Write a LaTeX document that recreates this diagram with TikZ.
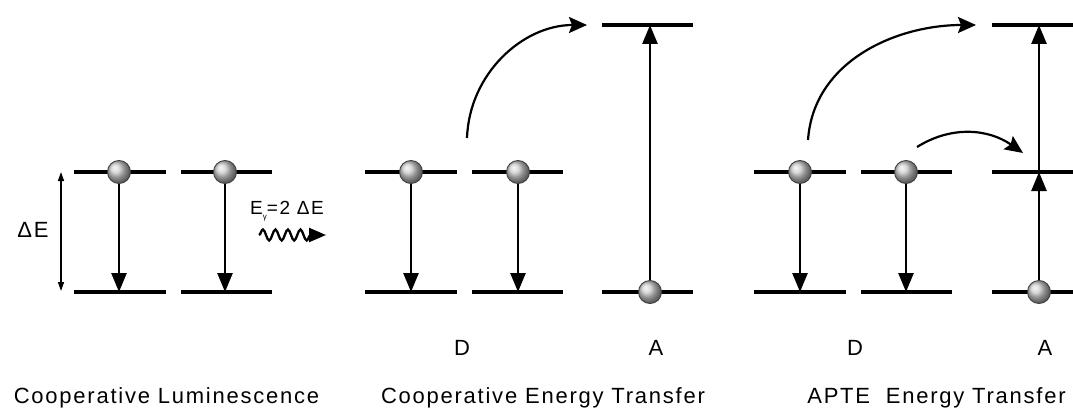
\documentclass[tikz,border=0pt]{standalone}
\usepackage{fontspec}
\setmainfont{Liberation Sans}[LetterSpace=8]
\usepackage{tikz}
\usetikzlibrary{arrows.meta}
\usetikzlibrary{decorations.pathmorphing}

\tikzset{
    level/.style = {line width = 3.3pt},
    ball/.style = {circle, inner sep = 0pt, minimum size = 23pt, ball color = gray!40, draw = black!75, line width = 0.9pt},
    trans/.style = {line width = 2.6pt, -{Triangle[length = 19pt, width = 15pt]}},
    hop/.style = {line width = 2.2pt, -{Stealth[length = 18pt, width = 16pt, inset = 3pt]}},
    lbl/.style = {font = \fontsize{22}{26}\selectfont, anchor = base},
}

\begin{document}
\begin{tikzpicture}[x = 1pt, y = 1pt]
        \useasboundingbox (0,0) rectangle (1073,408);

        \begin{scope}
            \draw[level] (74,236) -- (166,236);
            \draw[level] (74,116) -- (166,116);
            \draw[level] (181,236) -- (272,236);
            \draw[level] (181,116) -- (272,116);
            \node[ball] (cl1) at (119,236) {};
            \node[ball] (cl2) at (225,236) {};
            \coordinate (cl1b) at (119,116);
            \coordinate (cl2b) at (225,116);
            \draw[trans] (cl1) -- (cl1b);
            \draw[trans] (cl2) -- (cl2b);

            \coordinate (dEt) at (61,236);
            \coordinate (dEb) at (61,117);
            \draw[line width = 1.5pt, {Triangle[length = 9pt, width = 6pt]}-{Triangle[length = 9pt, width = 6pt]}] (dEt) -- (dEb);
            \node[lbl, anchor = center] (dE) at (33,178) {ΔE};

            \node[font = \fontsize{19}{21}\selectfont] (Eg) at (287,197) {E\raisebox{-0.5ex}{\fontsize{8}{8}\selectfont γ}=2 ΔE};
            \coordinate (wa) at (259,173);
            \coordinate (wb) at (326,173);
            \draw[line width = 2.3pt, decorate, decoration = {snake, amplitude = 5.5pt, segment length = 12.5pt, post length = 15pt}, -{Triangle[length = 17pt, width = 14pt]}] (wa) -- (wb);

            \node[lbl] (cap1) at (166.5,5) {Cooperative Luminescence};
        \end{scope}

        \begin{scope}[xshift = 291pt]
            \draw[level] (74,236) -- (166,236);
            \draw[level] (74,116) -- (166,116);
            \draw[level] (181,236) -- (272,236);
            \draw[level] (181,116) -- (272,116);
            \draw[level] (311,383) -- (402,383);
            \draw[level] (311,116) -- (402,116);
            \node[ball] (ce1) at (120,236) {};
            \node[ball] (ce2) at (227,236) {};
            \node[ball] (ceA) at (359,116) {};
            \coordinate (ce1b) at (120,116);
            \coordinate (ce2b) at (227,116);
            \coordinate (ceAt) at (359,383);
            \draw[trans] (ce1) -- (ce1b);
            \draw[trans] (ce2) -- (ce2b);
            \draw[trans] (ceA) -- (ceAt);

            \coordinate (ceS) at (176,270);
            \coordinate (ceE) at (296,383);
            \draw[hop] (ceS) to[out = 88, in = 180] (ceE);

            \node[lbl] (ceD) at (171,53) {D};
            \node[lbl] (ceAl) at (365,53) {A};
            \node[lbl] (cap2) at (252,5) {Cooperative Energy Transfer};
        \end{scope}

        \begin{scope}[xshift = 680pt]
            \draw[level] (74,236) -- (166,236);
            \draw[level] (74,116) -- (166,116);
            \draw[level] (181,236) -- (272,236);
            \draw[level] (181,116) -- (272,116);
            \draw[level] (312,383) -- (393,383);
            \draw[level] (312,236) -- (393,236);
            \draw[level] (312,116) -- (393,116);
            \node[ball] (ap1) at (120,236) {};
            \node[ball] (ap2) at (226,236) {};
            \node[ball] (apA) at (359,116) {};
            \coordinate (ap1b) at (120,116);
            \coordinate (ap2b) at (226,116);
            \coordinate (apAm) at (359,236);
            \coordinate (apAt) at (359,383);
            \draw[trans] (ap1) -- (ap1b);
            \draw[trans] (ap2) -- (ap2b);
            \draw[trans] (apA) -- (apAm);
            \draw[trans] (apAm) -- (apAt);

            \coordinate (apS) at (128,268);
            \coordinate (apE) at (296,383);
            \draw[hop] (apS) to[out = 86, in = 180] (apE);
            \coordinate (apS2) at (237,261);
            \coordinate (apE2) at (343,255);
            \draw[hop] (apS2) to[out = 32, in = 145] (apE2);

            \node[lbl] (apD) at (175,53) {D};
            \node[lbl] (apAl) at (365,53) {A};
            \node[lbl] (cap3) at (256.5,5) {APTE\ \ Energy Transfer};
        \end{scope}
\end{tikzpicture}
\end{document}
